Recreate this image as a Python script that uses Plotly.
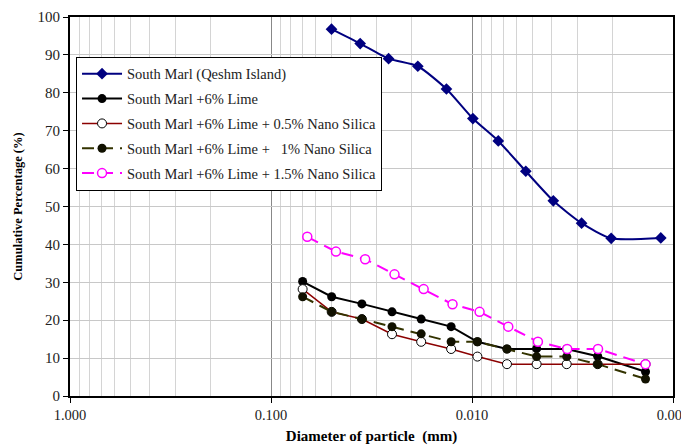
import plotly.graph_objects as go

# Data
names = [
    "South Marl (Qeshm Island)",
    "South Marl +6% Lime",
    "South Marl +6% Lime + 0.5% Nano Silica",
    "South Marl +6% Lime +   1% Nano Silica",
    "South Marl +6% Lime + 1.5% Nano Silica",
]
d_marl = [0.050, 0.036, 0.026, 0.0186, 0.0134, 0.0099, 0.0074, 0.0054, 0.00394, 0.00285, 0.00203, 0.00115]
p_marl = [96.8, 93.0, 89.0, 87.0, 81.0, 73.2, 67.3, 59.3, 51.5, 45.6, 41.6, 41.7]

d_lime = [0.0696, 0.0499, 0.0353, 0.0250, 0.0179, 0.0127, 0.0094, 0.0067, 0.00477, 0.00338, 0.00237, 0.00137]
p_lime = [30.2, 26.2, 24.3, 22.2, 20.3, 18.3, 14.3, 12.4, 12.5, 12.4, 10.5, 6.4]
p_ns05 = [28.2, 22.2, 20.3, 16.3, 14.3, 12.4, 10.4, 8.4, 8.4, 8.4, 8.4, 8.4]
p_ns10 = [26.2, 22.2, 20.3, 18.3, 16.4, 14.3, 14.3, 12.4, 10.4, 10.4, 8.4, 4.5]

d_ns15 = [0.066, 0.0475, 0.034, 0.0243, 0.0174, 0.0125, 0.00917, 0.0066, 0.0047, 0.00336, 0.00236, 0.00137]
p_ns15 = [42.0, 38.1, 36.1, 32.1, 28.2, 24.2, 22.2, 18.3, 14.3, 12.4, 12.4, 8.4]

x_tickvals = [1.0, 0.1, 0.01, 0.001]
x_ticktext = ["1.000", "0.100", "0.010", "0.001"]
y_tickvals = [0, 10, 20, 30, 40, 50, 60, 70, 80, 90, 100]

minor_vals = [m * 10.0 ** e for e in (-3, -2, -1) for m in range(2, 10)]

FONT = "Times New Roman, Liberation Serif, DejaVu Serif, serif"

fig = go.Figure()
fig.add_trace(go.Scatter(
    x=d_marl, y=p_marl, name=names[0], mode="lines+markers",
    line=dict(color="#000080", width=2, shape="spline", smoothing=0.6),
    marker=dict(symbol="diamond", size=9, color="#000080"),
    legendgroup="a"))
fig.add_trace(go.Scatter(
    x=d_lime, y=p_lime, name=names[1], mode="lines+markers",
    line=dict(color="#000000", width=2),
    marker=dict(symbol="circle", size=9, color="#000000"),
    legendgroup="b"))
fig.add_trace(go.Scatter(
    x=d_lime, y=p_ns05, name=names[2], mode="lines+markers",
    line=dict(color="#8B0000", width=1.5),
    marker=dict(symbol="circle", size=9, color="#ffffff",
                line=dict(color="#000000", width=1)),
    legendgroup="c"))
fig.add_trace(go.Scatter(
    x=d_lime, y=p_ns10, name=names[3], mode="lines+markers",
    line=dict(color="#333300", width=2, dash="12px,7px"),
    marker=dict(symbol="circle", size=9, color="#111100"),
    legendgroup="d"))
fig.add_trace(go.Scatter(
    x=d_ns15, y=p_ns15, name=names[4], mode="lines+markers",
    line=dict(color="#FF00FF", width=2, dash="12px,7px"),
    marker=dict(symbol="circle", size=9, color="#ffffff",
                line=dict(color="#FF00FF", width=1.5)),
    legendgroup="e"))

# page has an 8px body margin, so the figure is 8px smaller and shifted
fig.update_layout(
    width=681, height=440,
    margin=dict(l=62, r=16, t=9, b=52, autoexpand=False),
    paper_bgcolor="white", plot_bgcolor="white",
    font=dict(family=FONT, size=15, color="#000000"),
    showlegend=True,
    legend=dict(
        x=0.01, y=0.895, xanchor="left", yanchor="top",
        bgcolor="white", bordercolor="#000000", borderwidth=1,
        font=dict(family=FONT, size=14.5, color="#222222"),
        traceorder="grouped", tracegroupgap=3, itemwidth=40,
    ),
)

fig.update_xaxes(
    type="log", range=[0, -3], automargin=False,
    tickmode="array", tickvals=x_tickvals, ticktext=x_ticktext,
    ticks="outside", ticklen=5, tickcolor="#000000", tickwidth=1,
    ticklabeloverflow="allow",
    showgrid=True, gridcolor="#888888", gridwidth=1,
    minor=dict(tickmode="array", tickvals=minor_vals, showgrid=True,
               gridcolor="#d4d4d4", gridwidth=1, ticks=""),
    showline=True, linecolor="#000000", linewidth=2, mirror=True,
    zeroline=False,
    title=dict(text="<b>Diameter of particle  (mm)</b>", standoff=8,
               font=dict(family=FONT, size=15)),
    tickfont=dict(family=FONT, size=14.5, color="#222222"),
)
fig.update_yaxes(
    range=[0, 100], automargin=False,
    tickmode="array", tickvals=y_tickvals,
    ticks="outside", ticklen=5, tickcolor="#000000",
    showgrid=True, gridcolor="#c8c8c8", gridwidth=1,
    showline=True, linecolor="#000000", linewidth=2, mirror=True,
    zeroline=False,
    title=dict(text="<b>Cumulative Percentage (%)</b>", standoff=12,
               font=dict(family=FONT, size=12.5)),
    tickfont=dict(family=FONT, size=15, color="#222222"),
)

fig.write_html("out.html")
